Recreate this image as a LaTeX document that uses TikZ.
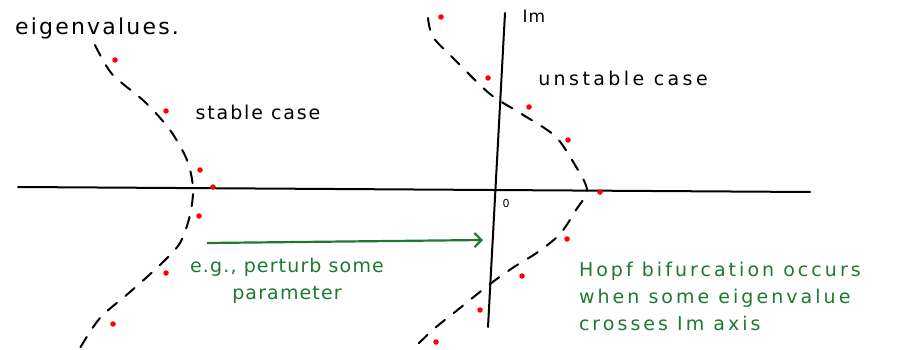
\documentclass[tikz,border=0pt]{standalone}
\usepackage{fontspec}
\setmainfont{DejaVu Sans}[LetterSpace=6]
\usepackage{tikz}
\usetikzlibrary{arrows,arrows.meta,positioning}
\definecolor{penGreen}{RGB}{30,120,50}
\begin{document}
\begin{tikzpicture}[x=1pt,y=-1pt]
	\useasboundingbox (0,0) rectangle (899,350);
	\begin{scope}[line width=2pt,>={Straight Barb[length=7pt,width=14pt]},
		axis/.style={draw,line cap=round},
		locus/.style={draw,line cap=round,dash pattern=on 12pt off 11pt},
		eig/.style={circle,fill=red,inner sep=0pt,minimum size=5.5pt},
		remark/.style={font=\fontsize{19}{27}\selectfont,inner sep=0pt},
		hint/.style={remark,text=penGreen}]
		% axes
		\coordinate (reL) at (18,187);
		\coordinate (reR) at (810,192);
		\coordinate (imT) at (505,13);
		\coordinate (imB) at (488,327);
		\draw [axis] (reL) -- (reR);
		\draw [axis] (imT) -- (imB);
		\node [remark,font=\fontsize{17}{18}\selectfont]	(im)	at (534,16)	{Im};
		\node [remark,font=\fontsize{11}{14}\selectfont]	(zero)	at (506,203)	{0};
		% labels
		\node [remark,font=\fontsize{22}{27}\selectfont\addfontfeature{LetterSpace=10}]	(eigen)		at (97,28)	{eigenvalues.};
		\node [remark,font=\fontsize{19}{27}\selectfont\addfontfeature{LetterSpace=10}]		(stable)	at (258,112)	{stable case};
		\node [remark,font=\fontsize{19}{27}\selectfont\addfontfeature{LetterSpace=18}]		(unstable)	at (623,78)	{unstable case};
		% loci
		\draw [locus] plot [smooth] coordinates {(95,45) (112,74) (145,102) (170,130) (187,160) (193,188) (190,215) (180,243) (160,265) (130,292) (100,318) (80,348)};
		\draw [locus] plot [smooth] coordinates {(428,18) (433,37) (455,60) (490,94) (520,113) (555,136) (575,165) (587,190) (576,210) (560,234) (538,252) (514,267) (490,284) (460,308) (435,328) (417,345)};
		% eigenvalues
		\foreach \p [count=\i] in {(115,60),(166,111),(200,170),(213,187),(199,216),(166,273),(113,324)}
			\node [eig] (s\i) at \p {};
		\foreach \p [count=\i] in {(441,17),(488,78),(529,107),(568,140),(600,192),(567,239),(522,276),(480,310),(436,342)}
			\node [eig] (u\i) at \p {};
		% perturbation
		\coordinate (pushA) at (207,243);
		\coordinate (pushB) at (483,240);
		\draw [->,penGreen,line width=2.2pt] (pushA) -- (pushB);
		\node [hint, align=center]	(perturb)	at (287,281)	{e.g., perturb some\\parameter};
		\node [hint, align=left, anchor=north west, font=\fontsize{19}{27}\selectfont\addfontfeature{LetterSpace=16}]	(hopf)	at (578,261)	{Hopf bifurcation occurs\\when some eigenvalue\\crosses Im axis};
	\end{scope}
\end{tikzpicture}
\end{document}
